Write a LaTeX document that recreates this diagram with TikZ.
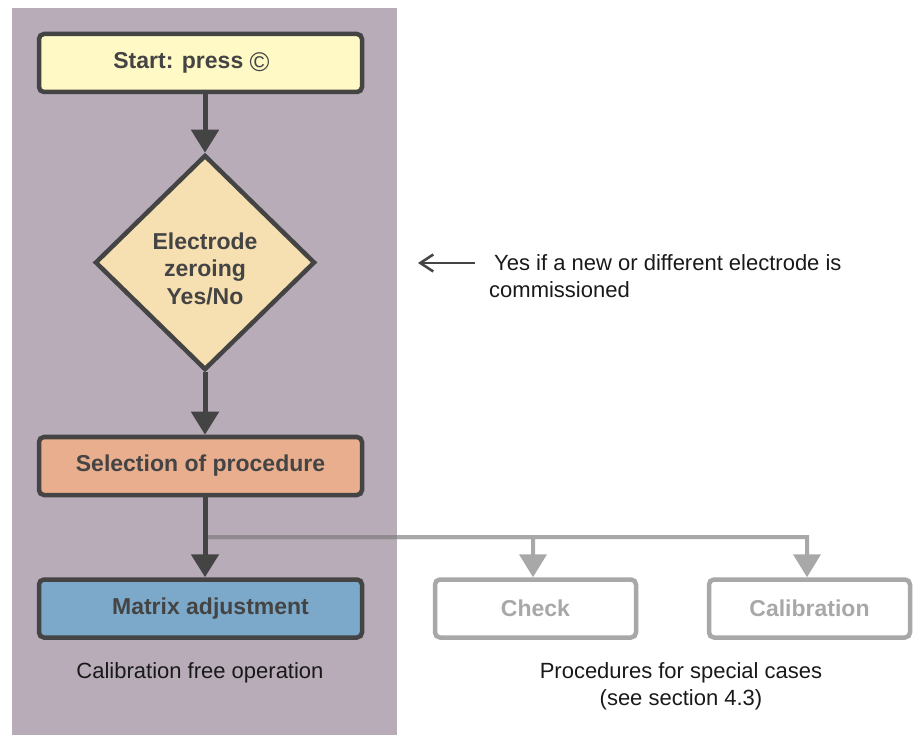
\documentclass[tikz,border=0pt]{standalone}
\usepackage{fontspec}
\setmainfont{Liberation Sans}
\usetikzlibrary{arrows.meta,shapes.geometric}
\definecolor{panel}{RGB}{183,172,184}
\definecolor{dark}{RGB}{68,68,68}
\definecolor{dim}{RGB}{168,168,168}
\definecolor{dimline}{RGB}{123,123,123}
\definecolor{startfill}{RGB}{255,249,197}
\definecolor{decfill}{RGB}{246,223,176}
\definecolor{selfill}{RGB}{232,174,142}
\definecolor{matfill}{RGB}{124,169,201}
\tikzset{>/.tip={Triangle[length=23pt,width=27pt]},
  box/.style={draw=dark,line width=4.5pt,rounded corners=5pt,minimum width=323pt,
    minimum height=58pt,text=dark,font=\fontsize{23}{27}\selectfont\bfseries},
  dimbox/.style={box,draw=dim,fill=white,text=dim,minimum width=201pt},
  decision/.style={diamond,draw=dark,line width=4.5pt,fill=decfill,minimum width=220pt,
    minimum height=215pt,inner sep=0pt,align=center,text=dark,
    font=\fontsize{23}{27.5}\selectfont\bfseries},
  flow/.style={draw=dark,line width=5pt,->},
  dimflow/.style={draw=dimline,line width=4pt,->},
  note/.style={font=\fontsize{22}{27}\selectfont,text=black!90,inner sep=0pt,anchor=west},
  caption/.style={font=\fontsize{22}{27}\selectfont,text=black!90,inner sep=0pt,align=center},
  notearrow/.style={draw=dark,line width=2.5pt,-{Straight Barb[length=13pt,width=17pt]}}}
\begin{document}
\begin{tikzpicture}[x=1pt,y=-1pt]
\useasboundingbox (0,0) rectangle (919,735);
\fill[panel] (12,8) rectangle (397,735);
% main path
\node[box,fill=startfill] (start) at (200.5,63) {Start: press \raisebox{-3pt}{\mdseries\fontsize{27}{27}\selectfont ©}\hspace*{18pt}};
\node[decision] (dec) at (205,262.5) {\rule{0pt}{29pt}Electrode\\zeroing\\Yes/No};
\node[box,fill=selfill] (select) at (200.5,466) {Selection of procedure};
\node[box,fill=matfill] (matrix) at (200.5,608.5) {\hspace*{20pt}Matrix adjustment};
% special cases
\node[dimbox] (check) at (535.5,608.5) {Check};
\node[dimbox] (calib) at (809.5,608.5) {Calibration};
\coordinate (split) at (205,537);
\begin{scope}[transparency group,opacity=0.66]
\draw[dimflow] (split) -| ([xshift=-2.5pt]check.north);
\draw[dimflow] (split) -| ([xshift=-2.5pt]calib.north);
\end{scope}
\draw[flow] (start.south -| dec.north) -- (dec.north);
\draw[flow] (dec.south) -- (select.north -| dec.south);
\draw[flow] (select.south -| dec.south) -- (matrix.north -| dec.south);
% notes
\node[note] (note1) at (494,263) {Yes if a new or different electrode is};
\node[note] (note2) at (489,290) {commissioned};
\coordinate (notetip) at (418,263);
\draw[notearrow] ([xshift=-19pt]note1.west) -- (notetip);
\node[caption] (freecap) at (200,673) {Calibration free operation};
\node[caption] (specialcap) at (681,686.5) {Procedures for special cases\\(see section 4.3)};
\end{tikzpicture}
\end{document}
